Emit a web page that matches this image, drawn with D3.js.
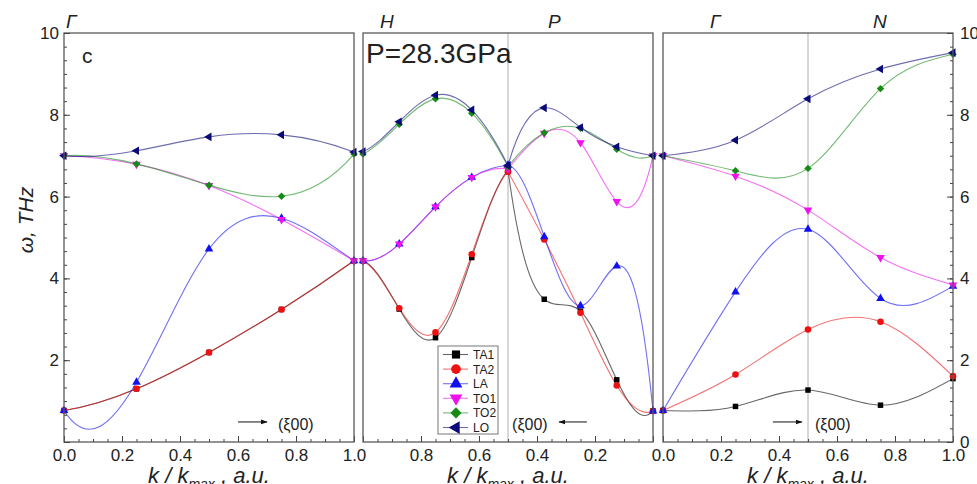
<!DOCTYPE html>
<html>
<head>
<meta charset="utf-8">
<script src="https://cdn.jsdelivr.net/npm/d3@7"></script>
<style>
  body { margin: 0; background: #fff; }
  svg { display: block; font-family: "Liberation Sans", Arial, sans-serif; }
</style>
</head>
<body>
<div class="main"></div>
<script>
// phonon branches, order: TA1, TA2, LA, TO1, TO2, LO
const branches = ["TA1", "TA2", "LA", "TO1", "TO2", "LO"]
const colors = ["#000000", "#ee1111", "#1111ee", "#ee11ee", "#158a15", "#0a0a78"]

// Gamma -> H (left panel)
const kGH = [0, 0.25, 0.5, 0.75, 1]
const omegaGH = [
    [0.77, 1.30, 2.19, 3.24, 4.43],
    [0.77, 1.30, 2.19, 3.24, 4.43],
    [0.77, 1.46, 4.72, 5.47, 4.43],
    [7.00, 6.79, 6.27, 5.44, 4.43],
    [7.00, 6.80, 6.28, 6.01, 7.04],
    [7.00, 7.12, 7.46, 7.51, 7.09]
]
// H -> P (middle panel, left half)
const kHP = [1, 0.875, 0.75, 0.625, 0.5]
const omegaHP = [
    [4.43, 3.25, 2.55, 4.51, 6.65],
    [4.43, 3.27, 2.68, 4.59, 6.61],
    [4.43, 4.84, 5.75, 6.47, 6.76],
    [4.43, 4.84, 5.75, 6.47, 6.68],
    [7.04, 7.77, 8.39, 8.04, 6.73],
    [7.10, 7.83, 8.48, 8.12, 6.76]
]
// P -> Gamma (middle panel, right half)
const kPG = [0.5, 0.375, 0.25, 0.125, 0]
const omegaPG = [
    [6.65, 3.49, 3.20, 1.52, 0.76],
    [6.61, 4.95, 3.16, 1.38, 0.76],
    [6.76, 5.02, 3.33, 4.30, 0.76],
    [6.68, 7.55, 7.32, 5.88, 7.00],
    [6.73, 7.56, 7.67, 7.16, 7.00],
    [6.76, 8.17, 7.69, 7.22, 7.00]
]
// Gamma -> N (right panel)
const kGN = [0, 0.25, 0.5, 0.75, 1]
const omegaGN = [
    [0.77, 0.87, 1.27, 0.90, 1.55],
    [0.77, 1.65, 2.75, 2.94, 1.61],
    [0.77, 3.67, 5.20, 3.51, 3.81],
    [7.00, 6.50, 5.67, 4.51, 3.84],
    [7.00, 6.63, 6.69, 8.64, 9.48],
    [7.00, 7.38, 8.39, 9.12, 9.52]
]

const kTicks = [0, 0.2, 0.4, 0.6, 0.8, 1]
const omegaTicks = [0, 2, 4, 6, 8, 10]

const W = 977, H = 484

const svg = d3.select(".main")
    .append("svg")
    .attr("width", W)
    .attr("height", H)

svg.append("rect").attr("width", W).attr("height", H).attr("fill", "#fff")

const y = d3.scaleLinear().domain([0, 10]).range([442, 33])

// not-a-knot cubic spline, drawn as bezier pieces
function solve(A, b) {
    const n = b.length
    for (let c = 0; c < n; c++) {
        let p = c
        for (let r = c + 1; r < n; r++) if (Math.abs(A[r][c]) > Math.abs(A[p][c])) p = r;
        [A[c], A[p]] = [A[p], A[c]];
        [b[c], b[p]] = [b[p], b[c]]
        for (let r = c + 1; r < n; r++) {
            const f = A[r][c] / A[c][c]
            for (let j = c; j < n; j++) A[r][j] -= f * A[c][j]
            b[r] -= f * b[c]
        }
    }
    const m = new Array(n).fill(0)
    for (let r = n - 1; r >= 0; r--) {
        let s = b[r]
        for (let j = r + 1; j < n; j++) s -= A[r][j] * m[j]
        m[r] = s / A[r][r]
    }
    return m
}

function curveNotAKnot(context) {
    let xs, ys
    return {
        areaStart() { }, areaEnd() { },
        lineStart() { xs = []; ys = [] },
        point(px, py) { xs.push(+px); ys.push(+py) },
        lineEnd() {
            const n = xs.length
            if (!n) return
            context.moveTo(xs[0], ys[0])
            if (n < 4) {
                for (let i = 1; i < n; i++) context.lineTo(xs[i], ys[i])
                return
            }
            const h = d3.range(n - 1).map(i => xs[i + 1] - xs[i])
            const A = Array.from({ length: n }, () => new Array(n).fill(0))
            const b = new Array(n).fill(0)
            A[0][0] = h[1]; A[0][1] = -(h[0] + h[1]); A[0][2] = h[0]
            for (let i = 1; i < n - 1; i++) {
                A[i][i - 1] = h[i - 1]
                A[i][i] = 2 * (h[i - 1] + h[i])
                A[i][i + 1] = h[i]
                b[i] = 6 * ((ys[i + 1] - ys[i]) / h[i] - (ys[i] - ys[i - 1]) / h[i - 1])
            }
            A[n - 1][n - 3] = h[n - 2]; A[n - 1][n - 2] = -(h[n - 3] + h[n - 2]); A[n - 1][n - 1] = h[n - 3]
            const M = solve(A, b)
            for (let i = 0; i < n - 1; i++) {
                const s = (ys[i + 1] - ys[i]) / h[i]
                const d0 = s - h[i] * (2 * M[i] + M[i + 1]) / 6
                const d1 = s + h[i] * (M[i] + 2 * M[i + 1]) / 6
                context.bezierCurveTo(
                    xs[i] + h[i] / 3, ys[i] + d0 * h[i] / 3,
                    xs[i + 1] - h[i] / 3, ys[i + 1] - d1 * h[i] / 3,
                    xs[i + 1], ys[i + 1])
            }
        }
    }
}

const panels = [
    { x: d3.scaleLinear().domain([0, 1]).range([64, 354]), parts: [[kGH, omegaGH]], divider: false, curve: curveNotAKnot },
    { x: d3.scaleLinear().domain([1, 0]).range([363, 653]), parts: [[kHP, omegaHP], [kPG, omegaPG]], divider: true, curve: curveNotAKnot },
    { x: d3.scaleLinear().domain([0, 1]).range([663, 953]), parts: [[kGN, omegaGN]], divider: true, curve: d3.curveNatural }
]

const symbols = [
    { type: d3.symbolSquare, rot: 0, size: 30 },
    { type: d3.symbolCircle, rot: 0, size: 34 },
    { type: d3.symbolTriangle, rot: 0, size: 32 },
    { type: d3.symbolTriangle, rot: 180, size: 32 },
    { type: d3.symbolSquare, rot: 45, size: 28 },
    { type: d3.symbolTriangle, rot: -90, size: 32 }
]

function marker(sel, i, scale) {
    const s = symbols[i]
    sel.append("path")
        .attr("d", d3.symbol().type(s.type).size(s.size * scale)())
        .attr("transform", `rotate(${s.rot})`)
        .attr("fill", colors[i])
}

panels.forEach((p, pi) => {
    const [x0, x1] = p.x.range()
    const g = svg.append("g")
    const clipId = "clip" + pi
    svg.append("clipPath").attr("id", clipId)
        .append("rect").attr("x", x0).attr("y", y(10)).attr("width", x1 - x0).attr("height", y(0) - y(10))

    if (p.divider) {
        g.append("line")
            .attr("x1", p.x(0.5)).attr("x2", p.x(0.5))
            .attr("y1", y(10)).attr("y2", y(0))
            .attr("stroke", "#b0b0b0").attr("stroke-width", 1)
    }

    // minor ticks
    g.append("g")
        .attr("transform", `translate(0,${y(0)})`)
        .call(d3.axisBottom(p.x).tickValues(d3.range(0, 21).map(i => i / 20)).tickSize(-3).tickFormat(""))
        .call(a => a.select(".domain").remove())
        .selectAll("line").attr("stroke", "#444")

    const labels = pi === 1 ? kTicks.filter(d => d > 0 && d < 1) : kTicks
    g.append("g")
        .attr("transform", `translate(0,${y(0)})`)
        .call(d3.axisBottom(p.x).tickValues(kTicks).tickSize(-6).tickPadding(7)
            .tickFormat(d => labels.includes(d) ? d3.format(".1f")(d) : ""))
        .call(a => a.select(".domain").remove())
        .call(a => a.selectAll("line").attr("stroke", "#444"))
        .selectAll("text").attr("font-size", 17).attr("fill", "#222")
        .attr("font-family", "Liberation Sans, Arial, sans-serif")

    const lines = g.append("g").attr("clip-path", `url(#${clipId})`)
    const marks = g.append("g")
    branches.forEach((b, bi) => {
        p.parts.forEach(([ks, om]) => {
            const pts = ks.map((k, j) => [p.x(k), y(om[bi][j])])
            lines.append("path")
                .attr("d", d3.line().curve(p.curve)(pts))
                .attr("fill", "none")
                .attr("stroke", colors[bi])
                .attr("stroke-opacity", 0.6)
                .attr("stroke-width", 1.1)
        })
    })
    branches.forEach((b, bi) => {
        p.parts.forEach(([ks, om]) => {
            ks.forEach((k, j) => {
                marks.append("g")
                    .attr("transform", `translate(${p.x(k)},${y(om[bi][j])})`)
                    .call(sel => marker(sel, bi, 1))
            })
        })
    })

    g.append("rect")
        .attr("x", x0).attr("y", y(10))
        .attr("width", x1 - x0).attr("height", y(0) - y(10))
        .attr("fill", "none").attr("stroke", "#5a5a5a").attr("stroke-width", 1.3)

    // x title
    const t = g.append("text")
        .attr("x", (x0 + x1) / 2).attr("y", 483)
        .attr("text-anchor", "middle")
        .attr("font-size", 22).attr("font-style", "italic").attr("fill", "#222")
    t.append("tspan").text("k / k")
    t.append("tspan").text("max").attr("font-size", 14).attr("dy", 6)
    t.append("tspan").text(" , a.u.").attr("dy", -6)
})

// y axes
const left = panels[0].x, right = panels[2].x
svg.append("g")
    .attr("transform", `translate(${left(0)},0)`)
    .call(d3.axisLeft(y).tickValues(d3.range(0, 31).map(i => i / 3)).tickSize(-3).tickFormat(""))
    .call(a => a.select(".domain").remove())
    .selectAll("line").attr("stroke", "#444")
svg.append("g")
    .attr("transform", `translate(${left(0)},0)`)
    .call(d3.axisLeft(y).tickValues(omegaTicks).tickSize(-6).tickPadding(5)
        .tickFormat(d => d === 0 ? "" : d))
    .call(a => a.select(".domain").remove())
    .call(a => a.selectAll("line").attr("stroke", "#444"))
    .selectAll("text").attr("font-size", 17).attr("fill", "#222")
    .attr("font-family", "Liberation Sans, Arial, sans-serif")

svg.append("g")
    .attr("transform", `translate(${right(1)},0)`)
    .call(d3.axisRight(y).tickValues(d3.range(0, 31).map(i => i / 3)).tickSize(-3).tickFormat(""))
    .call(a => a.select(".domain").remove())
    .selectAll("line").attr("stroke", "#444")
svg.append("g")
    .attr("transform", `translate(${right(1)},0)`)
    .call(d3.axisRight(y).tickValues(omegaTicks).tickSize(-6).tickPadding(7))
    .call(a => a.select(".domain").remove())
    .call(a => a.selectAll("line").attr("stroke", "#444"))
    .selectAll("text").attr("font-size", 17).attr("fill", "#222")
    .attr("font-family", "Liberation Sans, Arial, sans-serif")

// y title
svg.append("text")
    .attr("transform", "translate(33,220) rotate(-90)")
    .attr("text-anchor", "middle")
    .attr("font-size", 21).attr("font-style", "italic").attr("fill", "#222")
    .text("ω, THz")

// symmetry points
const points = [["Γ", 66], ["H", 380], ["P", 548], ["Γ", 710], ["N", 873]]
svg.selectAll(".sym").data(points).join("text")
    .attr("x", d => d[1]).attr("y", 28)
    .attr("font-size", 19).attr("font-style", "italic").attr("fill", "#222")
    .text(d => d[0])

svg.append("text").attr("x", 82).attr("y", 63)
    .attr("font-size", 21).attr("fill", "#222").text("c")
svg.append("text").attr("x", 366).attr("y", 63)
    .attr("font-size", 28).attr("fill", "#222").text("P=28.3GPa")

// (ξ00) arrows
svg.append("defs").append("marker")
    .attr("id", "arr").attr("viewBox", "0 0 10 10").attr("refX", 9).attr("refY", 5)
    .attr("markerWidth", 7).attr("markerHeight", 7).attr("orient", "auto")
    .append("path").attr("d", "M0,1.5L10,5L0,8.5Z").attr("fill", "#111")

const arrows = [
    { p: 0, from: 0.60, to: 0.70, text: 0.738 },
    { p: 1, from: 0.228, to: 0.324, text: 0.486 },
    { p: 2, from: 0.379, to: 0.479, text: 0.524 }
]
arrows.forEach(a => {
    const sx = panels[a.p].x
    svg.append("line")
        .attr("x1", sx(a.from)).attr("x2", sx(a.to))
        .attr("y1", y(0.49)).attr("y2", y(0.49))
        .attr("stroke", "#111").attr("stroke-width", 1)
        .attr("marker-end", "url(#arr)")
    svg.append("text").attr("x", sx(a.text)).attr("y", y(0.3))
        .attr("font-size", 16).attr("fill", "#222").text("(ξ00)")
})

// legend
const leg = svg.append("g").attr("transform", "translate(438,346)")
leg.append("rect").attr("width", 60).attr("height", 88)
    .attr("fill", "#fff").attr("stroke", "#777").attr("stroke-width", 1)
branches.forEach((b, i) => {
    const row = leg.append("g").attr("transform", `translate(0,${8.5 + i * 14.6})`)
    row.append("line").attr("x1", 5).attr("x2", 30)
        .attr("stroke", colors[i]).attr("stroke-opacity", 0.6).attr("stroke-width", 1.1)
    row.append("g").attr("transform", "translate(18,0)").call(sel => marker(sel, i, 2.2))
    row.append("text").attr("x", 35).attr("y", 4.5)
        .attr("font-size", 12).attr("fill", "#222").text(b)
})
</script>
</body>
</html>
